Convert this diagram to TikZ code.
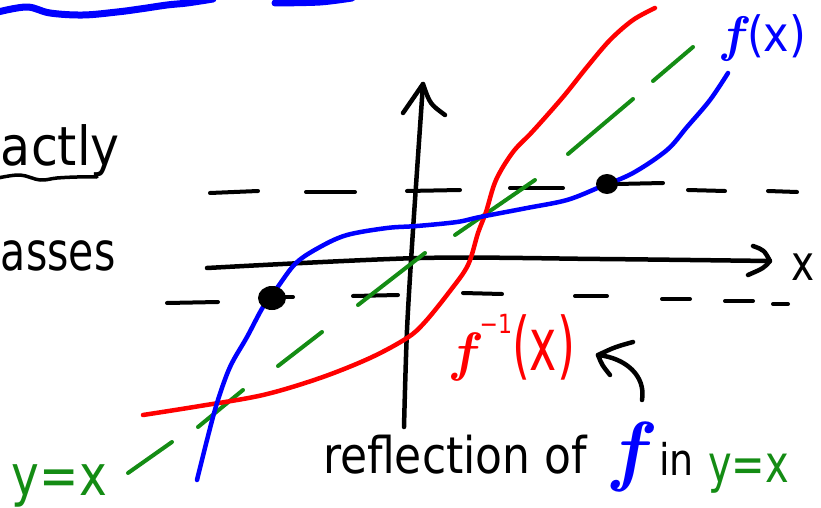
\documentclass[tikz,border=0pt]{standalone}
\usepackage{fontspec}
\usepackage{graphicx}
\newfontfamily\hand{DejaVu Sans}
\newcommand\hw[3]{\scalebox{1}[#2]{\fontsize{#1pt}{#1pt}\hand #3}}
\newcommand\itf[1]{{\fontsize{#1pt}{#1pt}\selectfont\bfseries\itshape f}}
\definecolor{pgreen}{RGB}{20,140,20}
\definecolor{pblue}{RGB}{0,0,255}
\definecolor{pred}{RGB}{255,0,0}
\begin{document}
\begin{tikzpicture}[x=1pt,y=-1pt,line cap=round,line join=round,
  curve/.style={line width=4.5pt},
  axis/.style={line width=4.5pt,black},
  dashseg/.style={line width=4pt,black},
  yxseg/.style={line width=4pt,pgreen},
  lbl/.style={anchor=base west,inner sep=0pt,outer sep=0pt}]
\useasboundingbox (0,0) rectangle (821,508);

% top blue wave
\draw[pblue,line width=7pt] plot[smooth,tension=0.6] coordinates
  {(-2,12) (27,7) (50,13) (83,15) (117,12) (140,9) (167,5) (187,3) (213,-1)};
\draw[pblue,line width=7pt] plot[smooth] coordinates {(275,3) (320,2) (352,-2)};

% left text
\node[lbl] (actly) at (1,165) {\hw{49}{1.1}{actly}};
\draw[line width=3.5pt] plot[smooth,tension=0.6] coordinates
  {(-2,178) (20,175) (40,180) (57,178) (77,177) (97,177)};
\node[lbl] (asses) at (1,270) {\hw{41}{1.3}{asses}};

% dashed level lines
\foreach \a/\b/\ya/\yb in {210/258/193/191, 306/355/192/192, 407/460/191/190,
   510/563/188/188, 617/663/184/183, 688/725/190/191, 768/797/191/192}
  \draw[dashseg] (\a,\ya) -- (\b,\yb);
\foreach \a/\b/\ya/\yb in {167/218/303/302, 280/293/297/297, 353/398/296/295,
   463/502/293/294, 575/607/296/296, 662/690/299/299, 725/753/301/301, 773/788/304/304}
  \draw[dashseg] (\a,\ya) -- (\b,\yb);

% axes
\coordinate (xs) at (207,268);
\coordinate (xe) at (770,261);
\draw[axis] plot[smooth] coordinates {(207,268) (420,258) (600,259) (770,261)};
\draw[axis] (753,246) .. controls (764,250) .. (xe) .. controls (764,268) .. (748,275);
\node[lbl] (xlab) at (791,280) {\hw{39}{1.25}{x}};
\coordinate (ys) at (404,427);
\coordinate (ye) at (423,84);
\draw[axis] plot[smooth] coordinates {(404,427) (407,330) (413,230) (423,84)};
\draw[axis] (403,113) .. controls (412,100) .. (ye) .. controls (430,104) .. (445,115);

% y = x dashed
\foreach \p/\q in {{(128,473)}/{(172,442)}, {(198,427)}/{(243,390)}, {(278,366)}/{(322,332)},
   {(358,305)}/{(425,253)}, {(455,235)}/{(535,180)}, {(568,154)}/{(633,99)}, {(653,81)}/{(693,47)}}
  \draw[yxseg] \p -- \q;

% inverse (red)
\draw[curve,pred] plot[smooth,tension=0.55] coordinates
  {(143,415) (200,406) (263,395) (320,378) (370,358) (407,338) (425,322) (450,291)
   (468,265) (478,233) (486,212) (496,180) (513,152) (533,131) (563,97) (587,67)
   (610,40) (633,20) (655,8)};

% f (blue)
\draw[curve,pblue] plot[smooth,tension=0.55] coordinates
  {(197,480) (207,440) (217,403) (230,367) (247,337) (263,307) (277,288) (296,263)
   (320,247) (347,235) (387,228) (417,226) (457,222) (480,217) (527,208) (567,200)
   (600,187) (633,173) (667,150) (687,127) (710,100) (728,73)};

% dots
\fill (272,298) ellipse[x radius=14pt,y radius=12pt];
\fill (607,184) ellipse[x radius=11pt,y radius=10pt];

% labels
\node[lbl,text=pblue] (fx) at (722,52) {\itf{50}\hspace{5pt}\hw{43}{1.13}{(x)}};
\node[lbl,text=pred] (finv) at (452,370)
  {\itf{54}\hspace{6pt}\raisebox{37pt}{\hw{22}{1.2}{−1}}\hw{46}{1.6}{(x)}};

% curved arrow
\coordinate (arrS) at (642,400);
\coordinate (arrE) at (598,355);
\draw[line width=4.5pt] (arrS) .. controls (646,376) and (626,358) .. (arrE);
\draw[line width=4.5pt] (633,342) .. controls (615,347) .. (arrE) .. controls (602,365) .. (610,375);

% bottom text
\node[lbl] (refl) at (323,473) {\hw{44}{1.15}{reflection of}};
\node[lbl,text=pblue] (fblue) at (612,476) {\itf{78}};
\node[lbl] (in) at (659,475) {\hw{38}{1.15}{in}};
\node[lbl,text=pgreen] (yx2) at (708,482) {\hw{40}{1.3}{y=x}};
\node[lbl,text=pgreen] (yx1) at (12,495) {\hw{47}{1.2}{y=x}};
\end{tikzpicture}
\end{document}
